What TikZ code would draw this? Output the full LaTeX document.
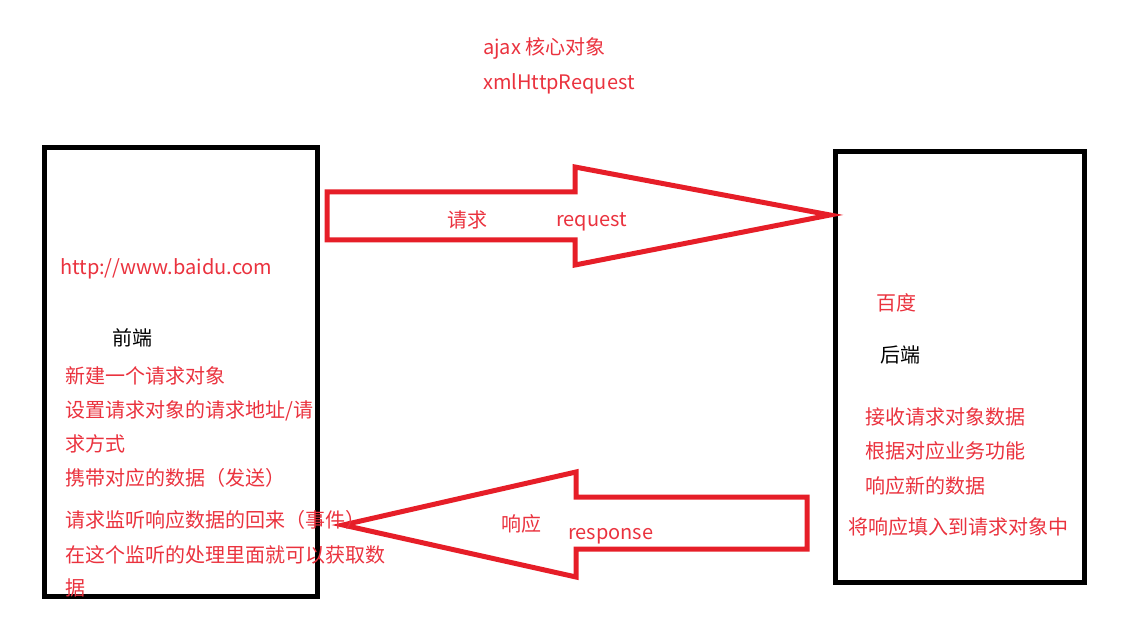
\documentclass[tikz,border=0pt]{standalone}
\usepackage{fontspec}
\setmainfont{Noto Sans CJK SC}
\definecolor{txtred}{RGB}{234,50,62}
\definecolor{arrred}{RGB}{230,30,40}
\tikzset{
  lbl/.style={anchor=base west, inner sep=0pt, text=txtred, font=\fontsize{20}{24}\selectfont},
  blk/.style={lbl, text=black},
  boxframe/.style={draw=black, line width=5pt},
  bigarrow/.style={draw=arrred, line width=5pt, line join=miter}
}
\begin{document}
\begin{tikzpicture}[x=1pt,y=-1pt]
\useasboundingbox (0,0) rectangle (1143,644);
% boxes
\draw[boxframe] (44,148) rectangle (317,596);
\draw[boxframe] (835,152) rectangle (1084,582);
% request arrow
\draw[bigarrow] (327,192) -- (575,192) -- (575,167) -- (830,215) -- (575,265) -- (575,240) -- (327,240) -- cycle;
% response arrow
\draw[bigarrow] (807,497) -- (576,497) -- (576,472) -- (343,525) -- (576,577) -- (576,549) -- (807,549) -- cycle;
% top
\node[lbl] (t1) at (483,55) {ajax 核心对象};
\node[lbl] (t2) at (483,90) {xmlHttpRequest};
% left
\node[lbl] (url) at (60,275) {http://www.baidu.com};
\node[blk] (fe) at (112,345) {前端};
\node[lbl] (l1) at (65,383) {新建一个请求对象};
\node[lbl] (l2) at (65,417) {设置请求对象的请求地址/请};
\node[lbl] (l3) at (65,451) {求方式};
\node[lbl] (l4) at (65,485) {携带对应的数据（发送）};
\node[lbl] (l5) at (65,527) {请求监听响应数据的回来（事件）};
\node[lbl] (l6) at (65,562) {在这个监听的处理里面就可以获取数};
\node[lbl] (l7) at (65,595) {据};
% right
\node[lbl] (bd) at (876,311) {百度};
\node[blk] (be) at (880,362) {后端};
\node[lbl] (r1) at (865,424) {接收请求对象数据};
\node[lbl] (r2) at (865,458) {根据对应业务功能};
\node[lbl] (r3) at (865,493) {响应新的数据};
\node[lbl] (r4) at (848,534) {将响应填入到请求对象中};
% arrow labels
\node[lbl] (q1) at (447,228) {请求};
\node[lbl] (q2) at (556,227) {request};
\node[lbl] (s1) at (501,531) {响应};
\node[lbl] (s2) at (568,539) {response};
\end{tikzpicture}
\end{document}
